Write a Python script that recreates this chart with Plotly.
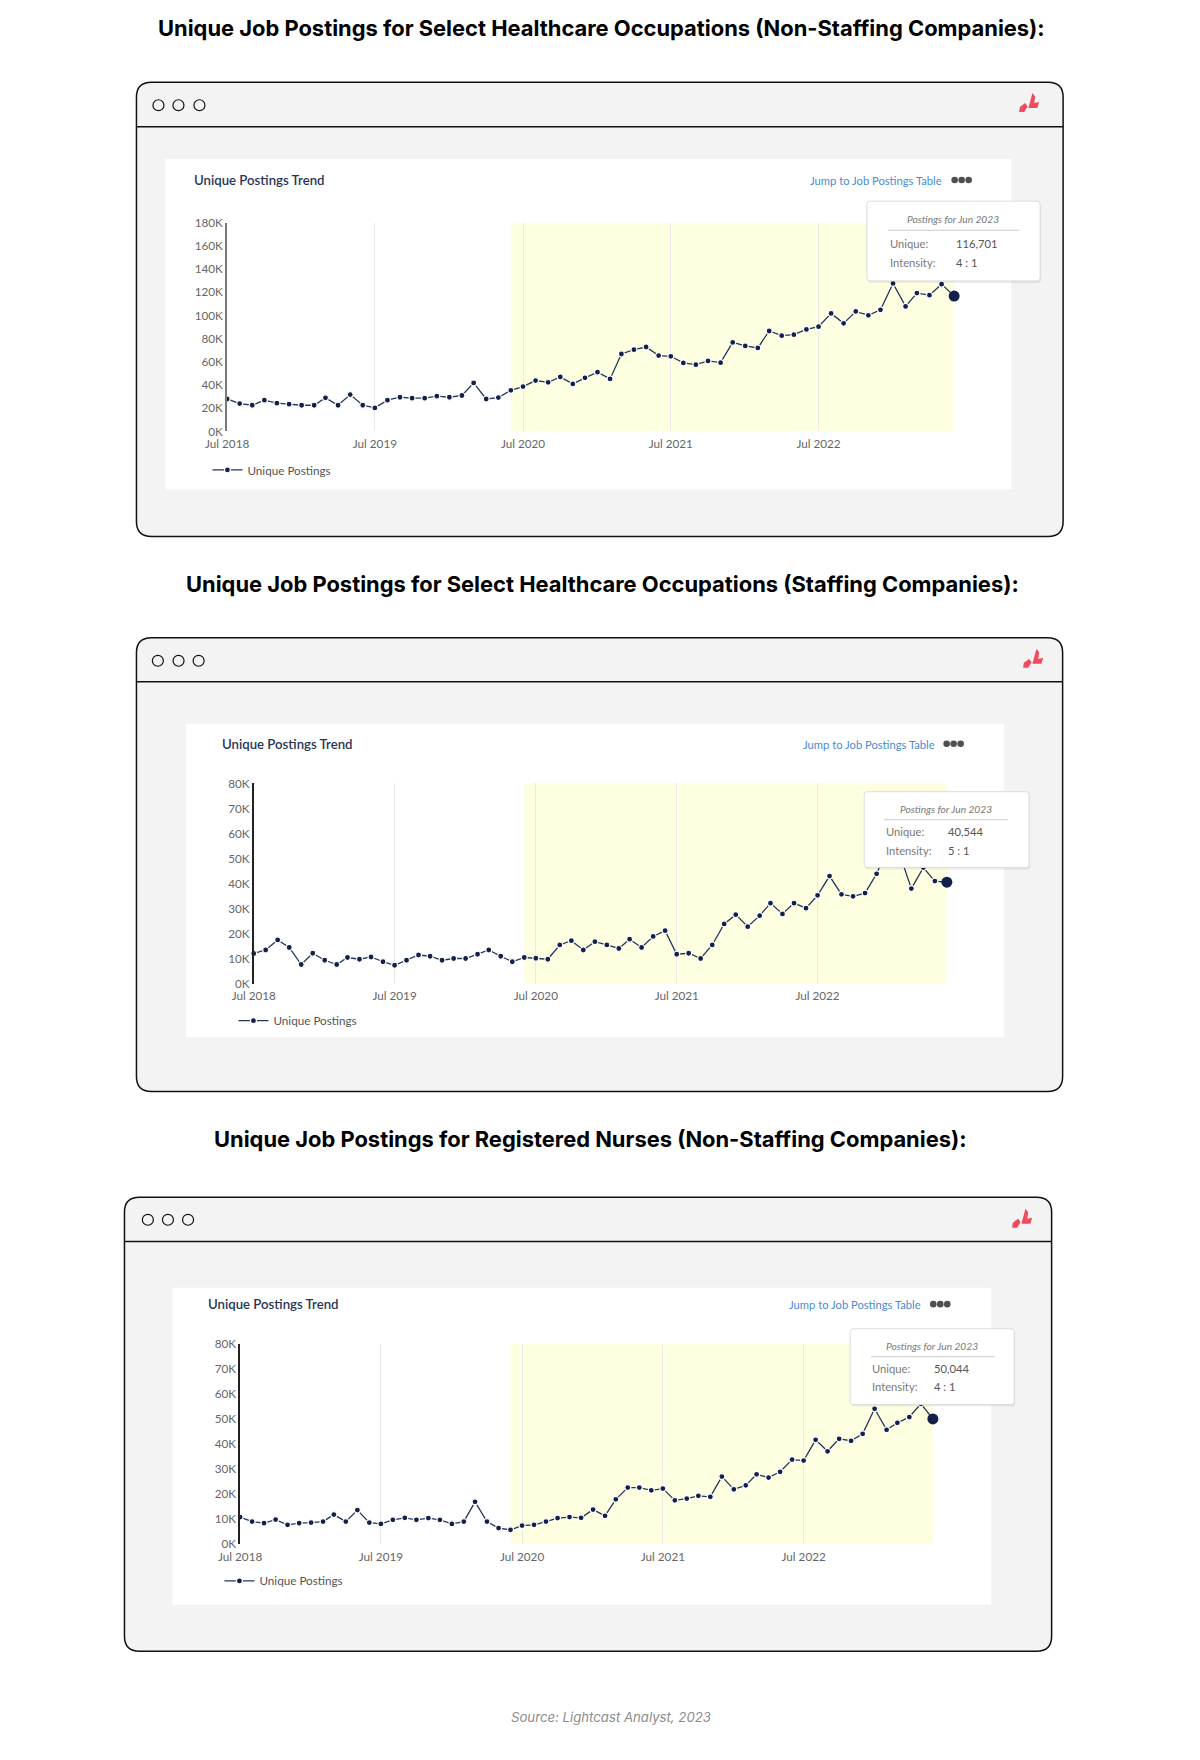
import pandas as pd
import plotly.graph_objects as go

# monthly unique postings, Jul 2018 - Jun 2023
months = pd.date_range("2018-07-01", periods=60, freq="MS")

non_staffing = [28000, 24000, 22600, 27000, 24400, 23500, 22600, 22600, 29000, 22600, 31800, 22600,
                20300, 27000, 29500, 28700, 28700, 30400, 29500, 31000, 41800, 28000, 29200, 35500,
                38700, 43900, 42400, 47000, 41000, 46200, 51100, 45300, 66800, 70500, 72800, 65400,
                64800, 59100, 57600, 60800, 59300, 76800, 73700, 72000, 86600, 82600, 83400, 88000,
                90300, 101800, 93200, 103500, 100100, 104900, 127600, 107800, 119300, 117500, 127000, 116701]

staffing = [12100, 13500, 17500, 14500, 7700, 12200, 9400, 7700, 10500, 9800, 10700, 8800,
            7400, 9400, 11500, 11000, 9400, 10100, 10100, 11800, 13500, 11000, 8800, 10500,
            10200, 9800, 15500, 17200, 13500, 16800, 15500, 14100, 17800, 14500, 18900, 21200,
            11800, 12200, 10100, 15500, 23900, 27600, 22800, 27200, 32200, 27900, 32200, 30200,
            35300, 43000, 35700, 34900, 36200, 43900, 55000, 50700, 38000, 46400, 41000, 40544]

nurses = [10800, 9000, 8400, 9800, 7700, 8400, 8600, 9000, 11800, 9000, 13600, 8600,
          8100, 9700, 10500, 9700, 10400, 9700, 8100, 9000, 16900, 9000, 6400, 5700,
          7400, 7700, 9000, 10400, 10800, 10500, 13800, 11300, 17900, 22600, 22600, 21500,
          22200, 17500, 18200, 19300, 18900, 27000, 21900, 23500, 27900, 26600, 28900, 33800,
          33400, 41700, 37100, 42100, 41300, 44100, 54100, 45700, 48500, 50800, 56100, 50044]

x_tick_dates = ["2018-07-01", "2019-07-01", "2020-07-01", "2021-07-01", "2022-07-01"]
x_tick_text = ["Jul 2018", "Jul 2019", "Jul 2020", "Jul 2021", "Jul 2022"]

y_ticks_big = [0, 20000, 40000, 60000, 80000, 100000, 120000, 140000, 160000, 180000]
y_text_big = ["0K", "20K", "40K", "60K", "80K", "100K", "120K", "140K", "160K", "180K"]
y_ticks_small = [0, 10000, 20000, 30000, 40000, 50000, 60000, 70000, 80000]
y_text_small = ["0K", "10K", "20K", "30K", "40K", "50K", "60K", "70K", "80K"]

highlight_start = "2020-06-01"
highlight_end = "2023-06-01"

titles = ["Unique Job Postings for Select Healthcare Occupations (Non-Staffing Companies):",
          "Unique Job Postings for Select Healthcare Occupations (Staffing Companies):",
          "Unique Job Postings for Registered Nurses (Non-Staffing Companies):"]
tip_unique = ["116,701", "40,544", "50,044"]
tip_intensity = ["4 : 1", "5 : 1", "4 : 1"]

W, H = 1200, 1760


# the page comes out slightly shifted/scaled in the snapshot, so target
# positions (measured on the reference) get mapped before use
def px(x):
    return (1.0183 * x - 31.06) / W


def py(y):
    return 1 - (1.005 * y - 16.08) / H


def fs(size):
    return round(size * 1.018, 1)


# page geometry of the three screenshots (pixels)
charts = [
    dict(values=non_staffing, yt=y_ticks_big, ytt=y_text_big, title_xy=(602, 28.5),
         win=(137, 82.5, 1064, 538), bar_y=127, dots=(159, 179, 200), dots_y=105.5, logo=(1020, 93),
         panel=(166, 159.5, 1012, 491), head=(192.3, 180.5), jump_r=944.6, menu_x=952,
         plot_x=(227.7, 955), plot_y=(432.7, 223.3), legend=(250, 471.3), axis_col="#7a7a7a", axis_w=2,
         tip=(867.7, 201.7, 1041, 281.7), tip_title=(954, 220), tip_sep=(889, 1020, 231),
         tip_rows=(889, 955, 244, 263.3)),
    dict(values=staffing, yt=y_ticks_small, ytt=y_text_small, title_xy=(603.7, 586),
         win=(137, 639.7, 1063.5, 1094.8), bar_y=683.8, dots=(158.4, 179.1, 199.2), dots_y=662.7, logo=(1024, 650.5),
         panel=(186.6, 725.8, 1005, 1040.3), head=(220.5, 746), jump_r=938, menu_x=944,
         plot_x=(254.3, 947.7), plot_y=(986.7, 785.7), legend=(276, 1023.7), axis_col="#222222", axis_w=1.5,
         tip=(865, 794, 1030, 870), tip_title=(946.7, 811), tip_sep=(885, 1009, 822),
         tip_rows=(885, 946.7, 834, 852.7)),
    dict(values=nurses, yt=y_ticks_small, ytt=y_text_small, title_xy=(591, 1142.6),
         win=(125, 1200.8, 1052.5, 1656.2), bar_y=1245.1, dots=(148.4, 168.5, 188.6), dots_y=1223.4, logo=(1013, 1212),
         panel=(172.9, 1291.5, 992, 1609.4), head=(206.8, 1308), jump_r=924, menu_x=930.6,
         plot_x=(240.7, 933.7), plot_y=(1548.7, 1348), legend=(262, 1585.6), axis_col="#222222", axis_w=1.5,
         tip=(851, 1332.7, 1015, 1408.7), tip_title=(933.3, 1349.7), tip_sep=(871.7, 995.7, 1360.7),
         tip_rows=(871, 933.3, 1372.3, 1390.7)),
]


def rounded_path(x0, y0, x1, y1, r):
    # svg path in paper units, with quadratic corners
    pts = [("M", x0 + r, y0), ("L", x1 - r, y0), ("Q", x1, y0, x1, y0 + r), ("L", x1, y1 - r),
           ("Q", x1, y1, x1 - r, y1), ("L", x0 + r, y1), ("Q", x0, y1, x0, y1 - r), ("L", x0, y0 + r),
           ("Q", x0, y0, x0 + r, y0)]
    out = []
    for p in pts:
        cmd, coords = p[0], p[1:]
        s = " ".join(f"{px(coords[i]):.5f},{py(coords[i + 1]):.5f}" for i in range(0, len(coords), 2))
        out.append(f"{cmd} {s}")
    return " ".join(out) + " Z"


def poly_path(points):
    return "M " + " L ".join(f"{px(x):.5f},{py(y):.5f}" for x, y in points) + " Z"


fig = go.Figure()
shapes = []
annotations = []
lato = "Lato, 'Open Sans', sans-serif"

for i, c in enumerate(charts):
    n = "" if i == 0 else str(i + 1)
    xa, ya = "x" + n, "y" + n

    # window frame
    wx0, wy0, wx1, wy1 = c["win"]
    shapes.append(dict(type="path", path=rounded_path(wx0, wy0, wx1, wy1, 15), xref="paper", yref="paper",
                       fillcolor="#f3f3f3", line=dict(color="#111111", width=1.5), layer="below"))
    shapes.append(dict(type="line", xref="paper", yref="paper", x0=px(wx0), x1=px(wx1),
                       y0=py(c["bar_y"]), y1=py(c["bar_y"]), line=dict(color="#111111", width=1.5), layer="below"))
    for cx in c["dots"]:
        shapes.append(dict(type="circle", xref="paper", yref="paper", x0=px(cx - 5.5), x1=px(cx + 5.5),
                           y0=py(c["dots_y"] + 5.5), y1=py(c["dots_y"] - 5.5),
                           line=dict(color="#111111", width=1.2), fillcolor="rgba(0,0,0,0)", layer="below"))
    # lightcast logo
    lx, ly = c["logo"]
    shapes.append(dict(type="path", xref="paper", yref="paper", fillcolor="#f24a5f", line_width=0, layer="below",
                       path=poly_path([(lx, ly + 19.3), (lx + 0.7, ly + 14.3), (lx + 6, ly + 10.3),
                                       (lx + 8.5, ly + 13.7), (lx + 5, ly + 19.3)])))
    shapes.append(dict(type="path", xref="paper", yref="paper", fillcolor="#f24a5f", line_width=0, layer="below",
                       path=poly_path([(lx + 13.3, ly + 0.3), (lx + 16, ly + 3.7), (lx + 15.2, ly + 10.3),
                                       (lx + 20, ly + 9.3), (lx + 18.3, ly + 15.3), (lx + 9.3, ly + 15.3)])))

    # white panel
    p0, q0, p1, q1 = c["panel"]
    shapes.append(dict(type="rect", xref="paper", yref="paper", x0=px(p0), x1=px(p1), y0=py(q1), y1=py(q0),
                       fillcolor="white", line_width=0, layer="below"))
    annotations.append(dict(text="Unique Postings Trend", x=px(c["head"][0]), y=py(c["head"][1]), xref="paper",
                            yref="paper", xanchor="left", yanchor="middle", showarrow=False,
                            font=dict(family=lato, size=fs(13), color="#28345a", weight=600)))
    annotations.append(dict(text="Jump to Job Postings Table", x=px(c["jump_r"]), y=py(c["head"][1] + 0.5),
                            xref="paper", yref="paper", xanchor="right", yanchor="middle", showarrow=False,
                            font=dict(family=lato, size=fs(11), color="#4a8bd3")))
    for k in range(3):
        mx = c["menu_x"] + 3.5 + k * 7
        shapes.append(dict(type="circle", xref="paper", yref="paper", x0=px(mx - 3.3), x1=px(mx + 3.3),
                           y0=py(c["head"][1] + 3.3), y1=py(c["head"][1] - 3.3),
                           fillcolor="#4f4f4f", line_width=0, layer="below"))

    # highlighted period
    shapes.append(dict(type="rect", xref=xa, yref=ya + " domain", x0=highlight_start, x1=highlight_end,
                       y0=0, y1=1, fillcolor="#fefee0", line_width=0, layer="below"))

    # series
    lg = "legend" if i == 0 else "legend" + str(i + 1)
    fig.add_trace(go.Scatter(x=months, y=c["values"], mode="lines+markers", name="Unique Postings",
                             xaxis=xa, yaxis=ya, legend=lg, cliponaxis=False,
                             line=dict(color="#26355a", width=1.3),
                             marker=dict(size=6, color="#13214a", line=dict(color="white", width=1.2))))
    fig.add_trace(go.Scatter(x=months[-1:], y=c["values"][-1:], mode="markers", showlegend=False,
                             xaxis=xa, yaxis=ya, cliponaxis=False,
                             marker=dict(size=11, color="#13214a")))

    xd = [px(c["plot_x"][0]), px(c["plot_x"][1])]
    yd = [py(c["plot_y"][0]), py(c["plot_y"][1])]
    fig.layout["xaxis" + n] = dict(domain=xd, anchor=ya, type="date", range=[months[0], months[-1]],
                                   tickvals=x_tick_dates, ticktext=x_tick_text, showgrid=True,
                                   gridcolor="#e9e9e9", gridwidth=1, showline=False, zeroline=False,
                                   ticks="", ticklabelstandoff=4,
                                   tickfont=dict(family=lato, size=fs(11.5), color="#666666"))
    fig.layout["yaxis" + n] = dict(domain=yd, anchor=xa, range=[0, c["yt"][-1]], tickvals=c["yt"],
                                   ticktext=c["ytt"], showgrid=False, zeroline=False, showline=True,
                                   linecolor=c["axis_col"], linewidth=c["axis_w"], ticks="",
                                   tickfont=dict(family=lato, size=fs(11.5), color="#666666"))
    fig.layout[lg] = dict(x=px(c["legend"][0] - 42), y=py(c["legend"][1]), xanchor="left", yanchor="middle",
                          bgcolor="rgba(0,0,0,0)", font=dict(family=lato, size=fs(11.5), color="#555555"),
                          itemwidth=30)

    # tooltip box
    t0, s0, t1, s1 = c["tip"]
    shapes.append(dict(type="path", xref="paper", yref="paper", path=rounded_path(t0 + 1, s0 + 2, t1 + 1, s1 + 2, 3),
                       fillcolor="rgba(0,0,0,0.07)", line_width=0, layer="above"))
    shapes.append(dict(type="path", xref="paper", yref="paper", path=rounded_path(t0, s0, t1, s1, 3),
                       fillcolor="white", line=dict(color="#dcdcdc", width=1), layer="above"))
    sx0, sx1, sy = c["tip_sep"]
    shapes.append(dict(type="line", xref="paper", yref="paper", x0=px(sx0), x1=px(sx1), y0=py(sy), y1=py(sy),
                       line=dict(color="#d6d6d6", width=1.2), layer="above"))
    annotations.append(dict(text="<i>Postings for Jun 2023</i>", x=px(c["tip_title"][0]), y=py(c["tip_title"][1]),
                            xref="paper", yref="paper", xanchor="center", yanchor="middle", showarrow=False,
                            font=dict(family=lato, size=fs(10), color="#777777")))
    lx0, vx0, r1, r2 = c["tip_rows"]
    rows = [("Unique:", tip_unique[i], r1), ("Intensity:", tip_intensity[i], r2)]
    for label, val, ry in rows:
        annotations.append(dict(text=label, x=px(lx0), y=py(ry), xref="paper", yref="paper", xanchor="left",
                                yanchor="middle", showarrow=False,
                                font=dict(family=lato, size=fs(11), color="#7a7a7a")))
        annotations.append(dict(text=val, x=px(vx0), y=py(ry), xref="paper", yref="paper", xanchor="left",
                                yanchor="middle", showarrow=False,
                                font=dict(family=lato, size=fs(11), color="#555555")))

    # section title
    annotations.append(dict(text=titles[i], x=px(c["title_xy"][0]), y=py(c["title_xy"][1]), xref="paper",
                            yref="paper", xanchor="center", yanchor="middle", showarrow=False,
                            font=dict(family="Inter, sans-serif", size=fs(21.5), color="#000000", weight=700)))

annotations.append(dict(text="<i>Source: Lightcast Analyst, 2023</i>", x=px(612), y=py(1722.3), xref="paper",
                        yref="paper", xanchor="center", yanchor="middle", showarrow=False,
                        font=dict(family="Inter, sans-serif", size=fs(13), color="#8c8c8c")))

fig.update_layout(width=W, height=H, margin=dict(l=0, r=0, t=0, b=0), paper_bgcolor="white",
                  plot_bgcolor="rgba(0,0,0,0)", shapes=shapes, annotations=annotations, hovermode=False)

fig.write_html("out.html")
